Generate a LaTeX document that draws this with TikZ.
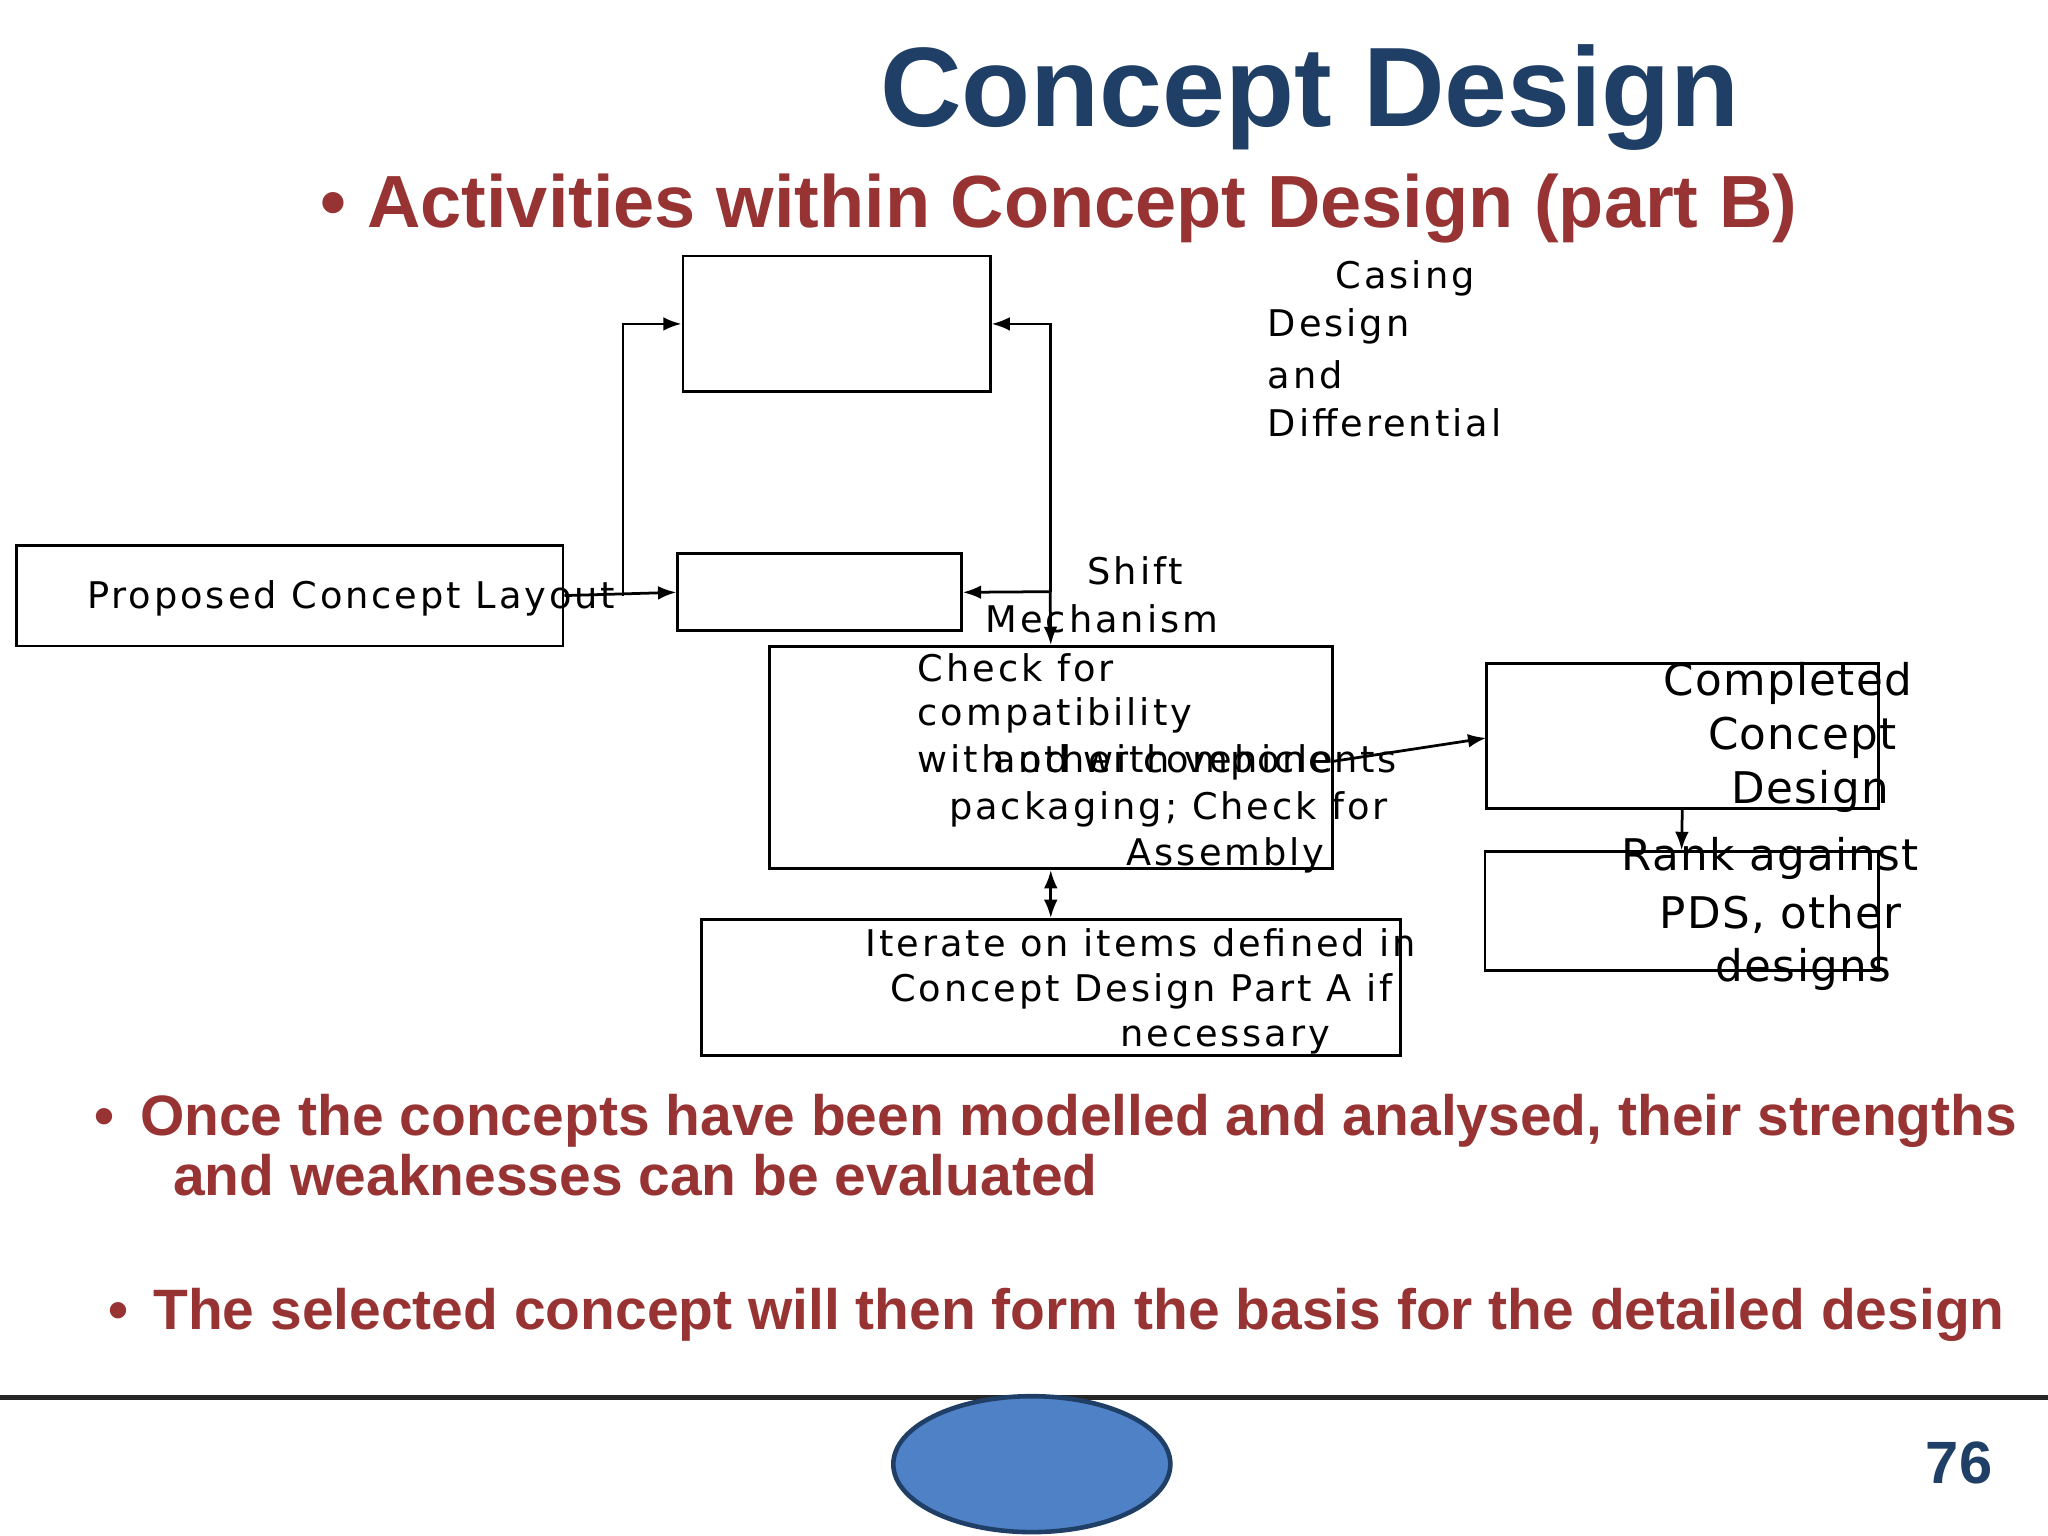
\documentclass[tikz,border=0pt]{standalone}
\usepackage{fontspec}
\setmainfont{DejaVu Sans}
\newfontfamily\arial{Liberation Sans}
\newfontfamily\lblfont[LetterSpace=8]{DejaVu Sans}
\newfontfamily\blblfont[LetterSpace=3]{DejaVu Sans}
\usetikzlibrary{arrows.meta,shapes.geometric}
\definecolor{tblue}{HTML}{1F3F66}
\definecolor{tred}{HTML}{983333}
\definecolor{ellfill}{HTML}{4F81C7}
\begin{document}
\begin{tikzpicture}[x=0.01cm,y=-0.01cm,
  con/.style={line width=0.6pt,-{Latex[length=4pt,width=3pt]}},
  lbl/.style={anchor=west,inner sep=0pt,font=\lblfont\fontsize{8}{9}\selectfont},
  blbl/.style={anchor=west,inner sep=0pt,font=\blblfont\fontsize{9.5}{11}\selectfont},
  red/.style={anchor=west,inner sep=0pt,text=tred,font=\arial\bfseries\fontsize{12.4}{14}\selectfont}]
\useasboundingbox (0,0) rectangle (1568,1176);
\node[text=tblue,font=\arial\bfseries\fontsize{24.6}{28}\selectfont] (title) at (1003,75) {Concept Design};
\node[anchor=west,inner sep=0pt,text=tred,font=\arial\bfseries\fontsize{16.1}{18}\selectfont] (sub) at (245,160) {\textbullet\ Activities within Concept Design (part B)};
% boxes
\node[draw,line width=0.6pt,minimum width=2.35cm,minimum height=1.04cm,inner sep=0pt] (top) at (640.5,248) {};
\node[draw,line width=0.6pt,minimum width=4.18cm,minimum height=0.77cm,inner sep=0pt] (left) at (222,456) {};
\node[draw,line width=0.6pt,minimum width=2.17cm,minimum height=0.59cm,inner sep=0pt] (small) at (627.5,453.5) {};
\node[draw,line width=0.6pt,minimum width=4.31cm,minimum height=1.70cm,inner sep=0pt] (check) at (804.5,580) {};
\node[draw,line width=0.6pt,minimum width=5.35cm,minimum height=1.04cm,inner sep=0pt] (iter) at (804.5,756) {};
\node[draw,line width=0.6pt,minimum width=3.00cm,minimum height=1.11cm,inner sep=0pt] (comp) at (1288,563.5) {};
\node[draw,line width=0.6pt,minimum width=3.01cm,minimum height=0.91cm,inner sep=0pt] (rank) at (1287.5,697.5) {};
% connectors
\coordinate (j1) at (477,456);
\coordinate (j2) at (804,453);
\draw[con] (left.east) -- (small.west);
\draw[con] (j1) |- (top.west);
\draw[con] (j2) |- (top.east);
\draw[con] (j2) -- (small.east);
\draw[con] (j2) -- (check.north);
\draw[line width=0.6pt,{Latex[length=4pt,width=3pt]}-{Latex[length=4pt,width=3pt]}] (check.south) -- (iter.north);
\draw[con] (1020,583) -- (1138,565);
\draw[con] (comp.south) -- (rank.north);
% texts
\node[lbl] (t0) at (66,458) {Proposed Concept Layout};
\node[lbl] (c1) at (1022,213) {Casing};
\node[lbl] (c2) at (970,250) {Design};
\node[lbl] (c3) at (970,287) {and};
\node[lbl] (c4) at (970,324) {Differential};
\node[lbl] (s1) at (832,437) {Shift};
\node[lbl] (s2) at (754,474) {Mechanism};
\node[lbl] (k1) at (702,511) {Check for};
\node[lbl] (k2) at (702,548) {compatibility};
\node[lbl] (k3) at (702,584) {with other components};
\node[lbl] (k4) at (760,581) {and with vehicle};
\node[lbl] (k5) at (726,620) {packaging; Check for};
\node[lbl] (k6) at (862,655) {Assembly};
\node[lbl] (i1) at (662,722) {Iterate on items defined in};
\node[lbl] (i2) at (681,759) {Concept Design Part A if};
\node[lbl] (i3) at (857,796) {necessary};
\node[blbl] (p1) at (1273,523) {Completed};
\node[blbl] (p2) at (1307,565) {Concept};
\node[blbl] (p3) at (1325,606) {Design};
\node[blbl] (r1) at (1241,657) {Rank against};
\node[blbl] (r2) at (1270,700) {PDS, other};
\node[blbl] (r3) at (1313,742) {designs};
\node[red] (b1) at (72,858) {\textbullet\ \,Once the concepts have been modelled and analysed, their strengths};
\node[red] (b2) at (132,900) {and weaknesses can be evaluated};
\node[red] (b3) at (82,1007) {\textbullet\ \,The selected concept will then form the basis for the detailed design};
\draw[line width=1pt,black!85] (0,1070) -- (1568,1070);
\node[draw=tblue,line width=1pt,fill=ellfill,ellipse,minimum width=2.12cm,minimum height=1.04cm] (ell) at (790,1121) {};
\node[text=tblue,font=\arial\bfseries\fontsize{13}{15}\selectfont] (pg) at (1500,1120) {76};
\end{tikzpicture}
\end{document}
